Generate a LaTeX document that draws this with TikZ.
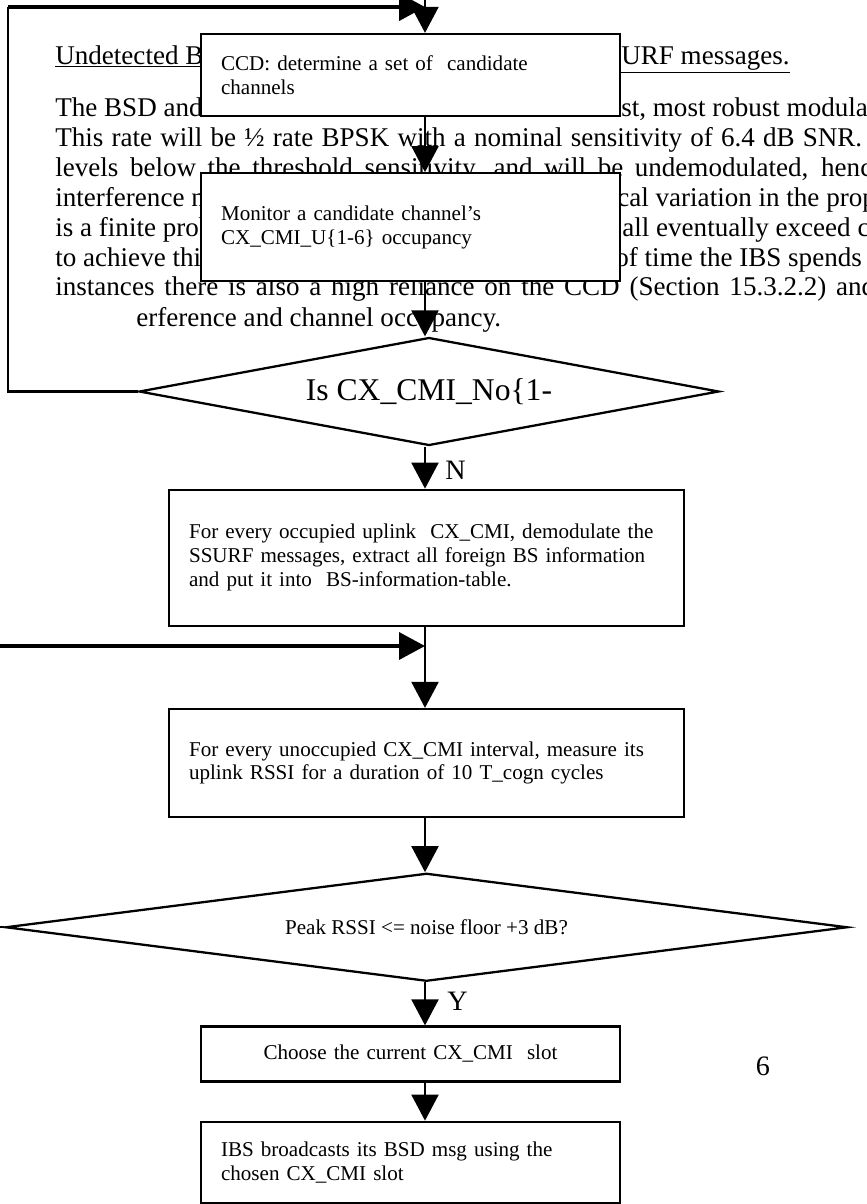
\documentclass[tikz,border=0pt]{standalone}
\usepackage{fontspec}
\setmainfont{Liberation Serif}
\usetikzlibrary{shapes.geometric, arrows.meta, positioning}
\newcommand{\parafont}{\fontsize{15.4}{17}\selectfont}
\newcommand{\boxfont}{\fontsize{12}{13.6}\selectfont}
\newcommand{\bigfont}{\fontsize{16}{18}\selectfont}
\newcommand{\askfont}{\fontsize{18}{20}\selectfont}
\tikzstyle{para} = [anchor=base west, inner sep=0pt, font=\parafont]
\tikzstyle{proc} = [rectangle, draw, line width=1.3pt, fill=white, minimum width=8.38cm, text width=7.58cm, inner xsep=0.4cm, align=left, font=\boxfont]
\tikzstyle{wide} = [proc, minimum width=10.3cm, text width=9.5cm]
\tikzstyle{decision} = [diamond, draw, line width=1.3pt, fill=white, inner sep=0pt, minimum height=2.16cm]
\tikzstyle{wire} = [line width=1.2pt, -{Triangle[length=0.52cm, width=0.54cm]}]
\tikzstyle{link} = [line width=1.2pt]
\tikzstyle{tag} = [anchor=base west, inner sep=0pt, font=\bigfont]

\begin{document}
\begin{tikzpicture}[x=0.02cm, y=0.02cm]
  \useasboundingbox (0,0) rectangle (866,-1204);
  \fill [white] (0,0) rectangle (866,-1204);
  % page text behind the chart
  \node (t0a) [para] at (55,-64) {\underline{Undetected B}};
  \node (t0b) [para] at (621,-64) {\underline{URF messages.}};
  \node (t1a) [para] at (55,-116) {The BSD and};
  \node (t1b) [para] at (621,-116) {st, most robust modula};
  \node (t2) [para] at (55,-146) {\makebox[16.14cm][s]{This rate will be ½ rate BPSK with a nominal sensitivity of 6.4 dB SNR.}};
  \node (t3) [para] at (55,-176) {\makebox[16.34cm][s]{levels below the threshold sensitivity, and will be undemodulated, henc}};
  \node (t4a) [para] at (55,-206) {interference n};
  \node (t4b) [para] at (617,-206) {cal variation in the prop};
  \node (t5a) [para] at (55,-236) {is a finite prob};
  \node (t5b) [para] at (622,-236) {all eventually exceed c};
  \node (t6a) [para] at (55,-266) {to achieve this};
  \node (t6b) [para] at (615,-266) {of time the IBS spends};
  \node (t7) [para] at (55,-295) {\makebox[16.4cm][s]{instances there is also a high reliance on the CCD (Section 15.3.2.2) and}};
  \node (t8) [para] at (136,-326) {erference and channel occupancy.};
  % chart
  \coordinate (spine) at (425,0);
  \coordinate (loop) at (8,-7);
  \coordinate (join1) at (425,-7);
  \coordinate (feed) at (0,-646);
  \coordinate (join2) at (425,-646);
  \coordinate (rim) at (0,0);
  \coordinate (bottom) at (425,-1204);
  \node (ccd) [proc, minimum height=1.64cm] at (410.5,-75) {CCD: determine a set of~ candidate\\channels};
  \node (mon) [proc, minimum height=2.16cm, below=1.1cm of ccd] {Monitor a candidate channel’s\\CX\_CMI\_U\{1-6\} occupancy};
  \node (d1) [decision, minimum width=11.6cm, aspect=5.37, font=\askfont, below=1.08cm of mon, xshift=0.37cm] {Is CX\_CMI\_No\{1-};
  \node (demod) [wide, minimum height=2.72cm, below=0.84cm of d1, xshift=-0.05cm] {For every occupied uplink~ CX\_CMI, demodulate the\\SSURF messages, extract all foreign BS information\\and put it into~ BS-information-table.};
  \node (meas) [wide, minimum height=2.16cm, below=1.62cm of demod] {For every unoccupied CX\_CMI interval, measure its\\uplink RSSI for a duration of 10 T\_cogn cycles};
  \node (d2) [decision, minimum width=16.84cm, aspect=7.8, font=\boxfont, below=1.08cm of meas] {Peak RSSI <= noise floor +3 dB?};
  \node (pick) [proc, minimum height=1.1cm, align=center, below=0.86cm of d2, xshift=-0.32cm] {Choose the current CX\_CMI~ slot};
  \node (bsd) [proc, minimum height=1.62cm, below=0.76cm of pick] {IBS broadcasts its BSD msg using the\\chosen CX\_CMI slot};
  \node (no) [tag] at (445,-479) {N};
  \node (yes) [tag] at (447,-1010) {Y};
  \node (pg) [anchor=base, inner sep=0pt, font=\bigfont] at (763,-1075) {6};
  \draw [wire] (spine) -- (ccd.north -| spine);
  \draw [wire] (ccd.south -| spine) -- (mon.north -| spine);
  \draw [wire] (mon.south -| spine) -- (d1.north -| spine);
  \draw [wire] (d1.south -| spine) -- (demod.north -| spine);
  \draw [wire] (demod.south -| spine) -- (meas.north -| spine);
  \draw [wire, line width=2pt] (feed) -- (join2);
  \draw [wire] (meas.south -| spine) -- (d2.north -| spine);
  \draw [wire] (d2.south -| spine) -- (pick.north -| spine);
  \draw [wire] (pick.south -| spine) -- (bsd.north -| spine);
  \draw [link] (bsd.south -| spine) -- (bottom);
  \draw [link] (d1.west) -| (loop);
  \draw [wire, line width=2.4pt] (loop) -- (join1);
  \draw [link] (d2.west) -- (d2.west -| rim);
\end{tikzpicture}
\end{document}
